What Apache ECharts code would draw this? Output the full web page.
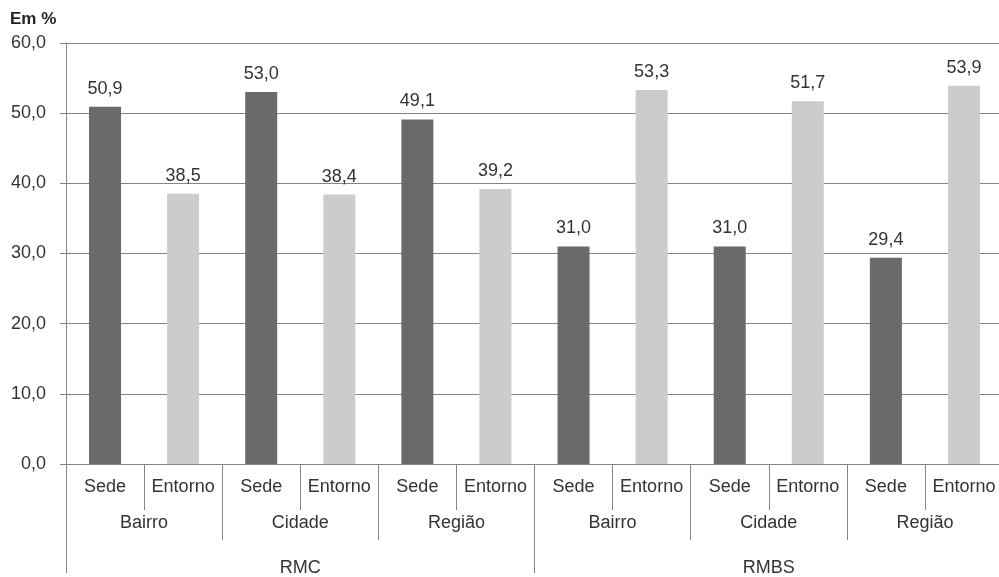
<!DOCTYPE html>
<html><head><meta charset="utf-8">
<script src="https://cdn.jsdelivr.net/npm/echarts@6/dist/echarts.min.js"></script>
<style>html,body{margin:0;padding:0;background:#fff}#c{width:999px;height:577px}</style>
</head><body><div id="c"></div>
<script>
var level1 = ['Sede','Entorno','Sede','Entorno','Sede','Entorno','Sede','Entorno','Sede','Entorno','Sede','Entorno'];
var level2 = ['Bairro','Cidade','Região','Bairro','Cidade','Região'];
var level3 = ['RMC','RMBS'];
var sede = [50.9, 53.0, 49.1, 31.0, 31.0, 29.4];
var entorno = [38.5, 38.4, 39.2, 53.3, 51.7, 53.9];
var yTicks = {min: 0, max: 60, interval: 10};

var sedeData = [], entData = [];
for (var i = 0; i < sede.length; i++) {
  sedeData.push(sede[i], '-');
  entData.push('-', entorno[i]);
}
var fmt = function(v){ return v.toFixed(1).replace('.', ','); };
var font = 'Liberation Sans, Arial, sans-serif';
var lineC = '#858585';
var chart = echarts.init(document.getElementById('c'));
chart.setOption({
  animation: false,
  graphic: [{type:'text', left: 10, top: 11, style:{text:'Em %', font:'bold 17px Liberation Sans, Arial, sans-serif', fill:'#222'}}],
  grid: {left: 66, width: 937, top: 43, height: 421, containLabel: false, outerBoundsMode: 'none'},
  xAxis: [
    {type:'category', data: level1, position:'bottom',
     axisLine:{show:true, lineStyle:{color:lineC}},
     axisTick:{show:true, interval:0, length:46, lineStyle:{color:lineC}},
     axisLabel:{interval:0, margin:14, fontSize:18, color:'#333', fontFamily:font}},
    {type:'category', data: level2, position:'bottom',
     axisLine:{show:false},
     axisTick:{show:true, interval:0, length:76, lineStyle:{color:lineC}},
     axisLabel:{interval:0, margin:50, fontSize:18, color:'#333', fontFamily:font}},
    {type:'category', data: level3, position:'bottom',
     axisLine:{show:false},
     axisTick:{show:true, interval:0, length:109, lineStyle:{color:lineC}},
     axisLabel:{interval:0, margin:95, fontSize:18, color:'#333', fontFamily:font}}
  ],
  yAxis: {type:'value', min: yTicks.min, max: yTicks.max, interval: yTicks.interval,
    axisLine:{show:true, lineStyle:{color:lineC}},
    axisTick:{show:true, length:6, lineStyle:{color:lineC}},
    splitLine:{show:true, lineStyle:{color:lineC}},
    axisLabel:{margin:20, fontSize:18, color:'#333', fontFamily:font, formatter: fmt}},
  series: [
    {type:'bar', name:'Sede', data: sedeData, barWidth: 32, barGap:'-100%', xAxisIndex:0,
     itemStyle:{color:'#6a6a6b'},
     label:{show:true, position:'top', distance:9, fontSize:18, color:'#333', fontFamily:font, formatter: function(p){return fmt(p.value);}}},
    {type:'bar', name:'Entorno', data: entData, barWidth: 32, barGap:'-100%', xAxisIndex:0,
     itemStyle:{color:'#cbcccd'},
     label:{show:true, position:'top', distance:9, fontSize:18, color:'#333', fontFamily:font, formatter: function(p){return fmt(p.value);}}}
  ]
});
</script></body></html>
